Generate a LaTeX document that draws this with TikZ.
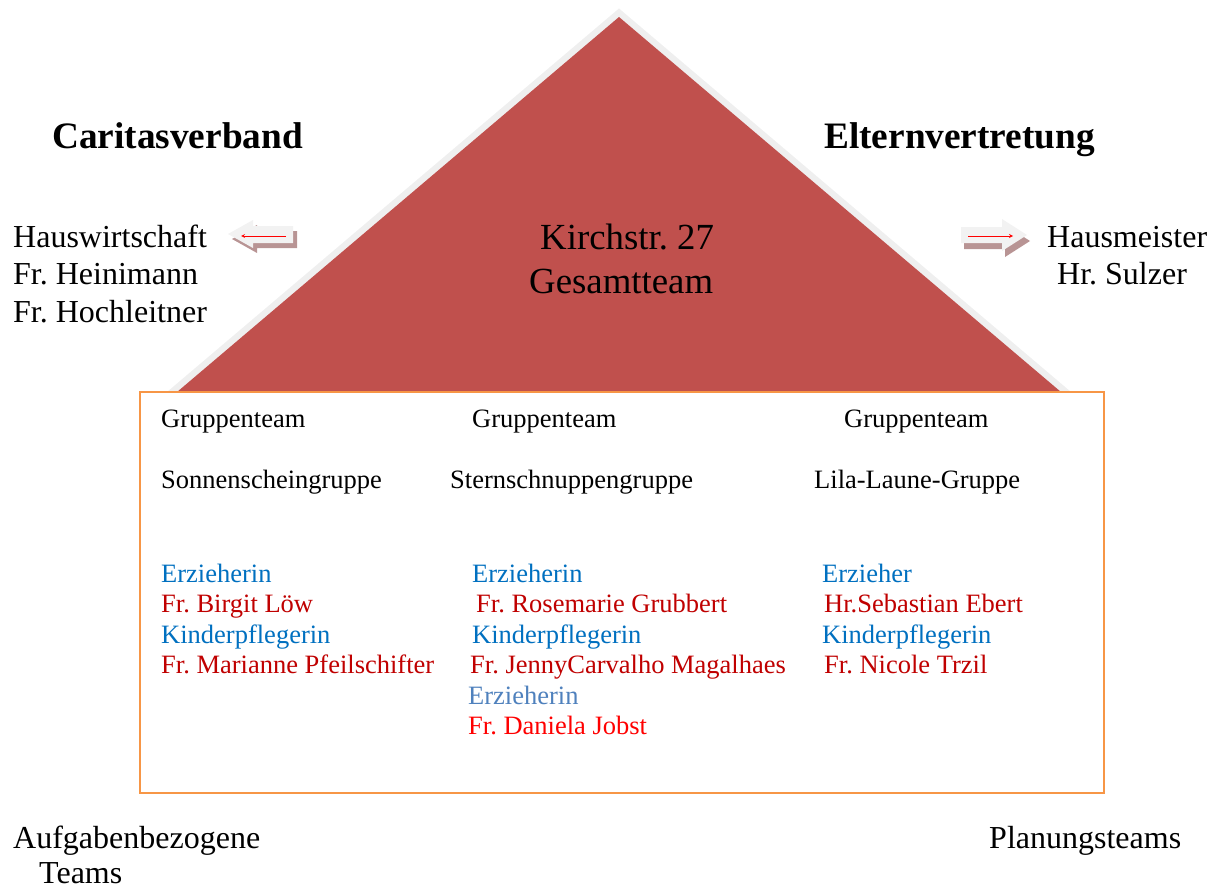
\documentclass[tikz,border=0pt]{standalone}
\usepackage{fontspec}
\setmainfont{Liberation Serif}
\frenchspacing

\definecolor{roofred}{HTML}{C0504D}
\definecolor{roofedge}{HTML}{EFEFEF}
\definecolor{boxorange}{HTML}{F79646}
\definecolor{rolblue}{HTML}{0070C0}
\definecolor{rolblue2}{HTML}{4F81BD}
\definecolor{namered}{HTML}{C00000}
\definecolor{namered2}{HTML}{FF0000}
\definecolor{arrowgrey}{HTML}{F2F2F2}
\definecolor{arrowshade}{HTML}{B89494}

\begin{document}
\begin{tikzpicture}[x=1pt,y=-1pt,
  txt/.style={anchor=base west,inner sep=0pt},
  head/.style={txt,font=\fontsize{37.3}{44}\selectfont\bfseries},
  big/.style={txt,font=\fontsize{32}{37}\selectfont},
  roof/.style={txt,font=\fontsize{36.8}{43}\selectfont},
  small/.style={txt,font=\fontsize{26.5}{30}\selectfont},
  role/.style={small,text=rolblue},
  who/.style={small,text=namered},
  pointer/.style={namered2,-stealth,line width=0.8pt}]
  \useasboundingbox (0,0) rectangle (1215,888);

  % roof
  \draw[roofedge,line width=13pt,line join=miter] (167.6,400) -- (619,17) -- (1070.4,400);
  \fill[roofred] (167.6,400) -- (619,17) -- (1070.4,400) -- cycle;

  % group box
  \node[draw=boxorange,line width=2.5pt,fill=white,minimum width=964pt,
    minimum height=401pt,inner sep=0pt] (box) at (622,592.5) {};

  \node[roof] (addr) at (540,249) {Kirchstr. 27};
  \node[roof] (team) at (529,293) {Gesamtteam};

  \node[head] (cv) at (52,149) {Caritasverband};
  \node[head] (ev) at (824,149) {Elternvertretung};

  \node[big] (hw) at (13,247) {Hauswirtschaft};
  \node[big] (hw1) at (13,284.5) {Fr. Heinimann};
  \node[big] (hw2) at (13,322) {Fr. Hochleitner};
  \node[big] (hm) at (1047,247) {Hausmeister};
  \node[big] (hm1) at (1057,284) {Hr. Sulzer};

  % block arrows
  \fill[arrowshade,shift={(4,5)}] (228,234) -- (253,220) -- (253,226) -- (293,226)
    -- (293,243) -- (253,243) -- (253,248) -- cycle;
  \fill[arrowgrey] (228,234) -- (253,220) -- (253,226) -- (293,226)
    -- (293,243) -- (253,243) -- (253,248) -- cycle;
  \fill[arrowshade,shift={(3,6)}] (1027,235) -- (1002,219) -- (1002,227) -- (961,227)
    -- (961,243) -- (1002,243) -- (1002,251) -- cycle;
  \fill[arrowgrey] (1027,235) -- (1002,219) -- (1002,227) -- (961,227)
    -- (961,243) -- (1002,243) -- (1002,251) -- cycle;
  \coordinate (alfrom) at (286,236);
  \coordinate (alto) at (241,236);
  \coordinate (arfrom) at (968,236);
  \coordinate (arto) at (1013,236);
  \draw[pointer] (alfrom) -- (alto);
  \draw[pointer] (arfrom) -- (arto);

  % groups
  \node[small] (g1) at (161,427) {Gruppenteam};
  \node[small] (g2) at (472,427) {Gruppenteam};
  \node[small] (g3) at (844,427) {Gruppenteam};
  \node[small] (n1) at (161,488) {Sonnenscheingruppe};
  \node[small] (n2) at (450,488) {Sternschnuppengruppe};
  \node[small] (n3) at (814,488) {Lila-Laune-Gruppe};

  \node[role] (r11) at (161,582) {Erzieherin};
  \node[who]  (p11) at (161,612) {Fr. Birgit Löw};
  \node[role] (r12) at (161,643) {Kinderpflegerin};
  \node[who]  (p12) at (161,673) {Fr. Marianne Pfeilschifter};

  \node[role] (r21) at (472,582) {Erzieherin};
  \node[who]  (p21) at (476,612) {Fr. Rosemarie Grubbert};
  \node[role] (r22) at (472,643) {Kinderpflegerin};
  \node[who]  (p22) at (470,673) {Fr. JennyCarvalho Magalhaes};
  \node[role,text=rolblue2] (r23) at (468,704) {Erzieherin};
  \node[who,text=namered2]  (p23) at (468,734) {Fr. Daniela Jobst};

  \node[role] (r31) at (822,582) {Erzieher};
  \node[who]  (p31) at (824,612) {Hr.Sebastian Ebert};
  \node[role] (r32) at (822,643) {Kinderpflegerin};
  \node[who]  (p32) at (824,673) {Fr. Nicole Trzil};

  \node[big] (at1) at (13,848) {Aufgabenbezogene};
  \node[big] (at2) at (39,883) {Teams};
  \node[big] (pt) at (989,848) {Planungsteams};
\end{tikzpicture}
\end{document}
